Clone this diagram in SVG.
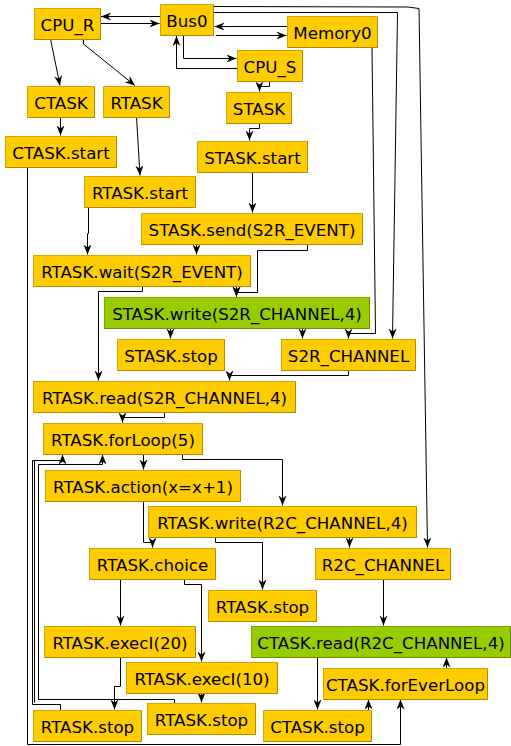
<svg xmlns="http://www.w3.org/2000/svg" width="511" height="746" viewBox="0 0 511 746">
<style>
.n rect{fill:#FFCC00;stroke:#D2A600;stroke-width:1}
.n path{fill:none;stroke:#B08A00;stroke-width:1}
.g rect{fill:#99CC00;stroke:#7FA800;stroke-width:1}
.g path{fill:none;stroke:#6A8C00;stroke-width:1}
text{font-family:"DejaVu Sans",Verdana,sans-serif;font-size:16.67px;fill:#000;text-anchor:middle}
#edges path{fill:none;stroke:#000;stroke-width:1;marker-end:url(#ah)}
#edges path.nm{marker-end:none}
</style>
<defs>
<marker id="ah" markerUnits="userSpaceOnUse" markerWidth="11" markerHeight="9" refX="10" refY="4" orient="auto">
<path d="M0,0 L10,4 L0,8 L3,4 Z" fill="#000"/>
</marker>
</defs>
<rect width="511" height="746" fill="#fff"/>
<g id="edges">
<path d="M160,16.5 L101,16.5"/>
<path d="M100,23.5 L159.5,23.5"/>
<path d="M287,26.5 L214.5,26.5"/>
<path d="M216,35.5 L286.5,35.5"/>
<path d="M183.5,35 L183.5,58.5 L236.5,58.5"/>
<path d="M237,68.5 L176.5,68.5 L176.5,36"/>
<path d="M50.5,39 L60,85.5"/>
<path d="M83.5,39 L83.5,44 L135,85.5"/>
<path d="M60.5,117 L60.5,135.5"/>
<path d="M136.5,117 L140,175.5"/>
<path d="M269.5,81 L269.5,86.5 L259.5,86.5 L259.5,91.5"/>
<path d="M259.5,123 L259.5,128.5 L249.5,128.5 L249.5,140.5"/>
<path d="M252.5,172 L252.5,212.5"/>
<path d="M88.5,207 L88.5,233.5 L87.5,233.5 L87.5,254.5"/>
<path d="M196.5,244 L196.5,254.5"/>
<path d="M307.5,244 L307.5,250.5 L257.5,250.5 L257.5,292.5 L236.5,292.5 L236.5,296.5"/>
<path d="M236.5,286 L236.5,296.5"/>
<path d="M142.5,286 L142.5,291.5 L98.5,291.5 L98.5,380.5"/>
<path d="M170.5,329 L170.5,338.5"/>
<path d="M302.5,329 L302.5,338.5"/>
<path d="M372,47 L375.5,333.5 L348.5,333.5 L348.5,338.5"/>
<path d="M213,12.5 L397.5,12.5 L392.5,338.5"/>
<path d="M213,6.5 L408,7 L419,8.5 L427.5,547.5"/>
<path d="M348.5,370 L348.5,375.5 L229.5,375.5 L229.5,380.5"/>
<path d="M164.5,412 L164.5,417.5 L122.5,417.5 L122.5,422.5"/>
<path d="M143.5,454 L143.5,469.5"/>
<path d="M182.5,454 L182.5,459.5 L282.5,459.5 L282.5,505.5"/>
<path d="M143.5,501 L143.5,542.5 L152.5,542.5 L152.5,547.5"/>
<path d="M215.5,537 L215.5,542.5 L262.5,542.5 L262.5,589.5"/>
<path d="M349.5,537 L349.5,547.5"/>
<path d="M120.5,579 L120.5,625.5"/>
<path d="M184.5,579 L184.5,584.5 L201.5,584.5 L201.5,661.5"/>
<path d="M383.5,579 L383.5,625.5"/>
<path d="M120.5,657 L120.5,686.5 L114.5,686.5 L114.5,709.5"/>
<path d="M201.5,694 L201.5,702.5"/>
<path d="M60.5,710 L60.5,704.5 L32.5,704.5 L32.5,460.5 L62.5,460.5 L62.5,454.5"/>
<path class="nm" d="M34.5,702.5 L34.5,460.5"/>
<path d="M174.5,703 L174.5,699.5 L38.5,699.5 L38.5,464.5 L102.5,464.5 L102.5,454.5"/>
<path d="M27.5,167 L27.5,744.5 L400.5,744.5 L400.5,699.5"/>
<path d="M317.5,657 L317.5,709.5"/>
<path d="M368.5,710 L368.5,699.5"/>
<path d="M446.5,668 L446.5,657.5"/>
</g>
<g id="CPU_R" class="n"><rect x="34.5" y="8.5" width="66" height="31"/><path d="M35,39.5 H100.5 V9"/><text x="67.5" y="30.5">CPU_R</text></g>
<g id="Bus0" class="n"><rect x="160.5" y="4.5" width="53" height="31"/><path d="M161,35.5 H213.5 V5"/><text x="187" y="26.5">Bus0</text></g>
<g id="Memory0" class="n"><rect x="287.5" y="16.5" width="90" height="31"/><path d="M288,47.5 H377.5 V17"/><text x="332.5" y="38.5">Memory0</text></g>
<g id="CPU_S" class="n"><rect x="237.5" y="50.5" width="65" height="31"/><path d="M238,81.5 H302.5 V51"/><text x="270" y="72.5">CPU_S</text></g>
<g id="CTASK" class="n"><rect x="27.5" y="86.5" width="67" height="31"/><path d="M28,117.5 H94.5 V87"/><text x="61" y="108.5">CTASK</text></g>
<g id="RTASK" class="n"><rect x="103.5" y="86.5" width="66" height="31"/><path d="M104,117.5 H169.5 V87"/><text x="136.5" y="108.5">RTASK</text></g>
<g id="STASK" class="n"><rect x="226.5" y="92.5" width="65" height="31"/><path d="M227,123.5 H291.5 V93"/><text x="259" y="114.5">STASK</text></g>
<g id="CTASK.start" class="n"><rect x="5.5" y="136.5" width="111" height="31"/><path d="M6,167.5 H116.5 V137"/><text x="61" y="158.5">CTASK.start</text></g>
<g id="STASK.start" class="n"><rect x="197.5" y="141.5" width="110" height="31"/><path d="M198,172.5 H307.5 V142"/><text x="252.5" y="163.5">STASK.start</text></g>
<g id="RTASK.start" class="n"><rect x="84.5" y="176.5" width="111" height="31"/><path d="M85,207.5 H195.5 V177"/><text x="140" y="198.5">RTASK.start</text></g>
<g id="STASK.send" class="n"><rect x="141.5" y="213.5" width="221" height="31"/><path d="M142,244.5 H362.5 V214"/><text x="252" y="235.5">STASK.send(S2R_EVENT)</text></g>
<g id="RTASK.wait" class="n"><rect x="33.5" y="255.5" width="217" height="31"/><path d="M34,286.5 H250.5 V256"/><text x="142" y="277.5">RTASK.wait(S2R_EVENT)</text></g>
<g id="STASK.write" class="g"><rect x="104.5" y="297.5" width="265" height="31"/><path d="M105,328.5 H369.5 V298"/><text x="237" y="319.5">STASK.write(S2R_CHANNEL,4)</text></g>
<g id="STASK.stop" class="n"><rect x="117.5" y="339.5" width="107" height="31"/><path d="M118,370.5 H224.5 V340"/><text x="171" y="361.5">STASK.stop</text></g>
<g id="S2R_CHANNEL" class="n"><rect x="281.5" y="339.5" width="134" height="31"/><path d="M282,370.5 H415.5 V340"/><text x="348.5" y="361.5">S2R_CHANNEL</text></g>
<g id="RTASK.read" class="n"><rect x="33.5" y="381.5" width="262" height="31"/><path d="M34,412.5 H295.5 V382"/><text x="164.5" y="403.5">RTASK.read(S2R_CHANNEL,4)</text></g>
<g id="RTASK.forLoop" class="n"><rect x="43.5" y="423.5" width="159" height="31"/><path d="M44,454.5 H202.5 V424"/><text x="123" y="445.5">RTASK.forLoop(5)</text></g>
<g id="RTASK.action" class="n"><rect x="45.5" y="470.5" width="195" height="31"/><path d="M46,501.5 H240.5 V471"/><text x="143" y="492.5">RTASK.action(x=x+1)</text></g>
<g id="RTASK.write" class="n"><rect x="148.5" y="506.5" width="268" height="31"/><path d="M149,537.5 H416.5 V507"/><text x="282.5" y="528.5">RTASK.write(R2C_CHANNEL,4)</text></g>
<g id="RTASK.choice" class="n"><rect x="89.5" y="548.5" width="126" height="31"/><path d="M90,579.5 H215.5 V549"/><text x="152.5" y="570.5">RTASK.choice</text></g>
<g id="R2C_CHANNEL" class="n"><rect x="315.5" y="548.5" width="135" height="31"/><path d="M316,579.5 H450.5 V549"/><text x="383" y="570.5">R2C_CHANNEL</text></g>
<g id="RTASK.stop1" class="n"><rect x="208.5" y="590.5" width="108" height="31"/><path d="M209,621.5 H316.5 V591"/><text x="262.5" y="612.5">RTASK.stop</text></g>
<g id="RTASK.execI20" class="n"><rect x="44.5" y="626.5" width="151" height="31"/><path d="M45,657.5 H195.5 V627"/><text x="120" y="648.5">RTASK.execI(20)</text></g>
<g id="CTASK.read" class="g"><rect x="251.5" y="626.5" width="259" height="31"/><path d="M252,657.5 H510.5 V627"/><text x="381" y="648.5">CTASK.read(R2C_CHANNEL,4)</text></g>
<g id="RTASK.execI10" class="n"><rect x="126.5" y="662.5" width="151" height="31"/><path d="M127,693.5 H277.5 V663"/><text x="202" y="684.5">RTASK.execI(10)</text></g>
<g id="CTASK.forEverLoop" class="n"><rect x="323.5" y="668.5" width="164" height="31"/><path d="M324,699.5 H487.5 V669"/><text x="405.5" y="690.5">CTASK.forEverLoop</text></g>
<g id="RTASK.stop2" class="n"><rect x="33.5" y="710.5" width="108" height="31"/><path d="M34,741.5 H141.5 V711"/><text x="87.5" y="732.5">RTASK.stop</text></g>
<g id="RTASK.stop3" class="n"><rect x="147.5" y="703.5" width="108" height="31"/><path d="M148,734.5 H255.5 V704"/><text x="201.5" y="725.5">RTASK.stop</text></g>
<g id="CTASK.stop" class="n"><rect x="263.5" y="710.5" width="108" height="31"/><path d="M264,741.5 H371.5 V711"/><text x="317.5" y="732.5">CTASK.stop</text></g>
</svg>
